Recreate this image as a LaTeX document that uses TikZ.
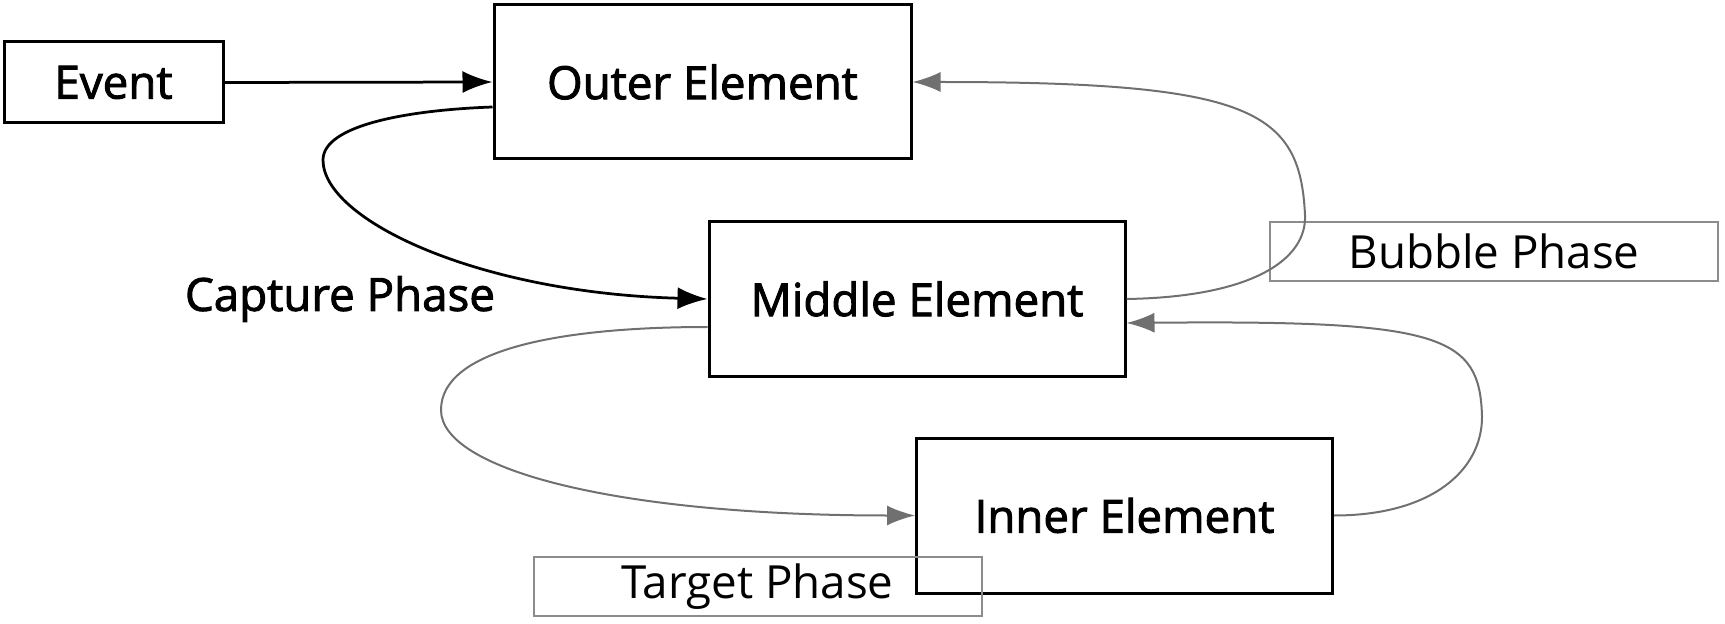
\documentclass[tikz,border=0pt]{standalone}
\usepackage{fontspec}
\setmainfont{Open Sans}
\newfontfamily\elemfont{Open Sans}[FakeBold=2]
\usetikzlibrary{arrows.meta, calc}

\begin{document}
\begin{tikzpicture}[
  elem_box/.style={draw, line width=0.06cm, minimum width=8.32cm, minimum height=3.08cm, inner sep=0pt, font=\elemfont\fontsize{26}{30}\selectfont},
  phase_box/.style={draw=phase_box_color, line width=0.04cm, minimum width=8.96cm, minimum height=1.18cm, inner sep=0pt, font=\fontsize{26}{30}\selectfont},
  phase_label/.style={inner sep=0pt, font=\elemfont\fontsize{26}{30}\selectfont},
  capture_arrow/.style={line width=0.055cm, -{Latex[length=0.6cm, width=0.44cm]}},
  bubble_arrow/.style={draw=bubble_color, line width=0.04cm, -{Latex[length=0.56cm, width=0.4cm, fill=bubble_color]}},
]
\definecolor{bubble_color}{RGB}{112,112,112}
\definecolor{phase_box_color}{RGB}{140,140,140}

\useasboundingbox (0,0) rectangle (34.5,-12.48);

\node[elem_box, minimum width=4.38cm, minimum height=1.62cm] (event) at (2.27,-1.65) {Event};
\node[elem_box, minimum width=8.34cm] (outer) at (14.05,-1.64) {Outer Element};
\node[elem_box] (middle) at (18.34,-5.98) {Middle Element};
\node[elem_box, minimum height=3.1cm] (inner) at (22.49,-10.31) {Inner Element};

\node[phase_box] (bubble) at (29.88,-5.03) {Bubble Phase};
\node[phase_box] (target) at (15.15,-11.73) {Target Phase};
\node[phase_label] (capture) at (6.8,-5.98) {Capture Phase};


\draw[capture_arrow] (event.east) -- (outer.west);
\draw[capture_arrow] ($(outer.west)+(0,-0.5)$) .. controls +(-1.68,-0.06) and +(0,0.7) .. (6.46,-3.2) .. controls +(0,-1.2) and +(-4.58,0.12) .. (middle.west);

\draw[bubble_arrow] (middle.east) .. controls +(2.5,0.04) and +(0.04,-0.9) .. (26.1,-4.3) .. controls +(-0.1,2.1) and +(6.78,0) .. (outer.east);
\draw[bubble_arrow] ($(middle.west)+(0,-0.56)$) .. controls +(-2.98,0) and +(0,1.2) .. (8.82,-8.2) .. controls +(0,-1.2) and +(-5.94,0) .. (inner.west);
\draw[bubble_arrow] (inner.east) .. controls +(1.96,0) and +(0,-1.06) .. (29.64,-8.34) .. controls +(-0.04,1.64) and +(6.3,0.06) .. ($(middle.east)+(0,-0.48)$);

\end{tikzpicture}
\end{document}
